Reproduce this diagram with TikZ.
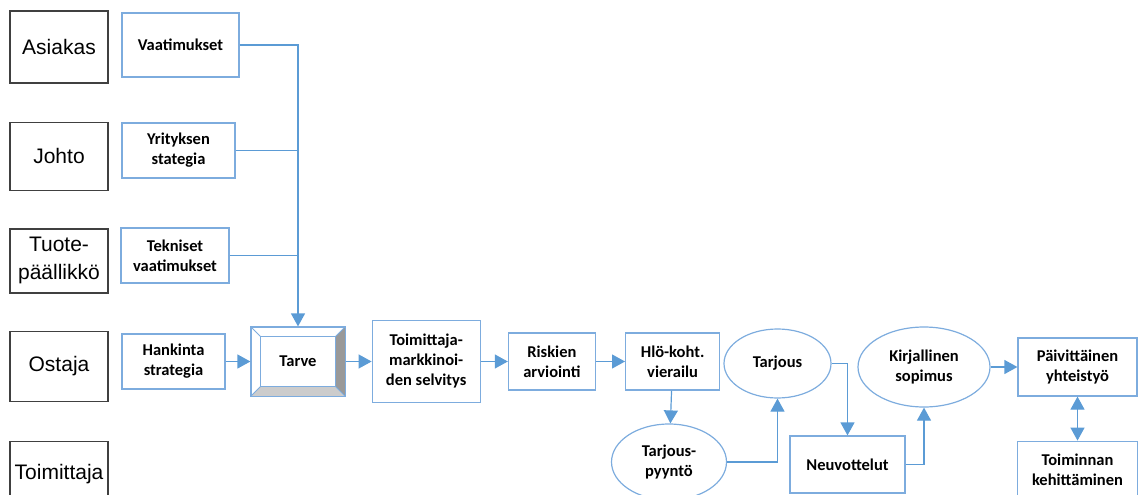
\documentclass[tikz,border=0pt]{standalone}
\usepackage{fontspec}
\newfontfamily\rolefamily{Liberation Sans}
\newfontfamily\boxfamily{Carlito Bold}
\usetikzlibrary{calc, positioning, shapes.geometric, arrows.meta}

\definecolor{lineblue}{RGB}{91,155,213}
\definecolor{boxblue}{RGB}{125,172,222}
\definecolor{rolegray}{RGB}{64,64,64}

\tikzset{
  flowtip/.tip = {Triangle[length=13pt, width=14pt]},
  role/.style = {draw=rolegray, line width=1.4pt, minimum width=98pt, inner sep=0pt,
    align=center, font=\rolefamily\fontsize{21}{28}\selectfont},
  info/.style = {draw=boxblue, line width=1.2pt, inner sep=0pt, align=center,
    font=\boxfamily\fontsize{16.5}{20}\selectfont},
  oval/.style = {info, ellipse},
  flow/.style = {draw=lineblue, line width=1.2pt, -flowtip},
  feed/.style = {draw=lineblue, line width=1.2pt},
}

\begin{document}
\begin{tikzpicture}[x=1pt, y=-1pt]
\useasboundingbox (0,0) rectangle (1138,495);
\clip (0,0) rectangle (1138,495);

% roles on the left
\node[role, minimum height=72pt] (asiakas) at (59,47) {Asiakas};
\node[role, minimum height=68pt] (johto) [below = 38pt of asiakas] {Johto};
\node[role, minimum height=64pt] (tuote) [below = 37pt of johto] {Tuote-\\päällikkö};
\node[role, minimum height=70pt] (ostaja) [below = 37pt of tuote] {Ostaja};
\node[role, minimum height=64pt] (toimittaja) [below = 39pt of ostaja] {Toimittaja}; % runs off the page

% inputs
\node[info, minimum width=117pt, minimum height=64pt] (vaatimukset) at (180.5,45) {Vaatimukset};
\node[info, minimum width=113pt, minimum height=55pt] (yrityksen) at (178.5,150.5) {Yrityksen\\stategia};
\node[info, minimum width=108pt, minimum height=55pt] (tekniset) at (175,255.5) {Tekniset\\vaatimukset};
\node[info, minimum width=103pt, minimum height=55pt] (hankinta) at (173.5,361.5) {Hankinta\\strategia};

\node[info, minimum width=94pt, minimum height=69pt] (tarve) at (298,361.5) {Tarve};
% bevel of tarve
\fill[black!40] (tarve.north east) -- (tarve.south east)
  -- ($(tarve.south east)+(-10,-10)$) -- ($(tarve.north east)+(-10,10)$) -- cycle;
\fill[black!20] (tarve.south west) -- (tarve.south east)
  -- ($(tarve.south east)+(-10,-10)$) -- ($(tarve.south west)+(10,-10)$) -- cycle;
\draw[boxblue, line width=1.2pt] (tarve.north west) rectangle (tarve.south east);
\draw[boxblue, line width=1.2pt] ($(tarve.north west)+(10,10)$) rectangle ($(tarve.south east)+(-10,-10)$);
\draw[boxblue, line width=0.8pt] (tarve.north west) -- ++(10,10)
  (tarve.north east) -- ++(-10,10) (tarve.south west) -- ++(10,-10) (tarve.south east) -- ++(-10,-10);

% process chain
\node[info, minimum width=108pt, minimum height=82pt] (selvitys) [right = 26pt of tarve] {Toimittaja-\\markkinoi-\\den selvitys};
\node[info, minimum width=87pt, minimum height=57pt] (riskien) [right = 27pt of selvitys] {Riskien\\arviointi};
\node[info, minimum width=94pt, minimum height=57pt] (vierailu) [right = 29pt of riskien] {Hlö-koht.\\vierailu};

\node[oval, minimum width=107pt, minimum height=69pt] (tarjous) at (777.5,363.5) {Tarjous};
\node[oval, minimum width=115pt, minimum height=76pt] (pyynto) at (669,462) {Tarjous-\\pyyntö};
\node[info, minimum width=115pt, minimum height=57pt] (neuvottelut) at (847.5,464.5) {Neuvottelut};
\node[oval, minimum width=132pt, minimum height=80pt] (sopimus) at (924,367) {Kirjallinen\\sopimus};
\node[info, minimum width=119pt, minimum height=58pt] (paivittainen) at (1077.5,367) {Päivittäinen\\yhteistyö};
\node[info, minimum width=120pt, minimum height=58pt] (toiminnan) [below = 44pt of paivittainen] {Toiminnan\\kehittäminen};

% feeds into tarve
\draw[flow] (vaatimukset.east) -| (tarve.north);
\draw[feed] (yrityksen.east) -- (yrityksen.east -| tarve.north);
\draw[feed] (tekniset.east) -- (tekniset.east -| tarve.north);
\draw[flow] (hankinta) -- (tarve);

\draw[flow] (tarve) -- (selvitys);
\draw[flow] (selvitys) -- (riskien);
\draw[flow] (riskien) -- (vierailu);
\draw[flow] (vierailu) -- (pyynto);
\draw[flow] (pyynto.east) -| (tarjous.south);
\draw[flow] (tarjous.east) -| (neuvottelut.north);
\draw[flow] (neuvottelut.east) -| (sopimus.south);
\draw[flow] (sopimus) -- (paivittainen);
\draw[flow, flowtip-flowtip] (paivittainen) -- (toiminnan);
\end{tikzpicture}
\end{document}
